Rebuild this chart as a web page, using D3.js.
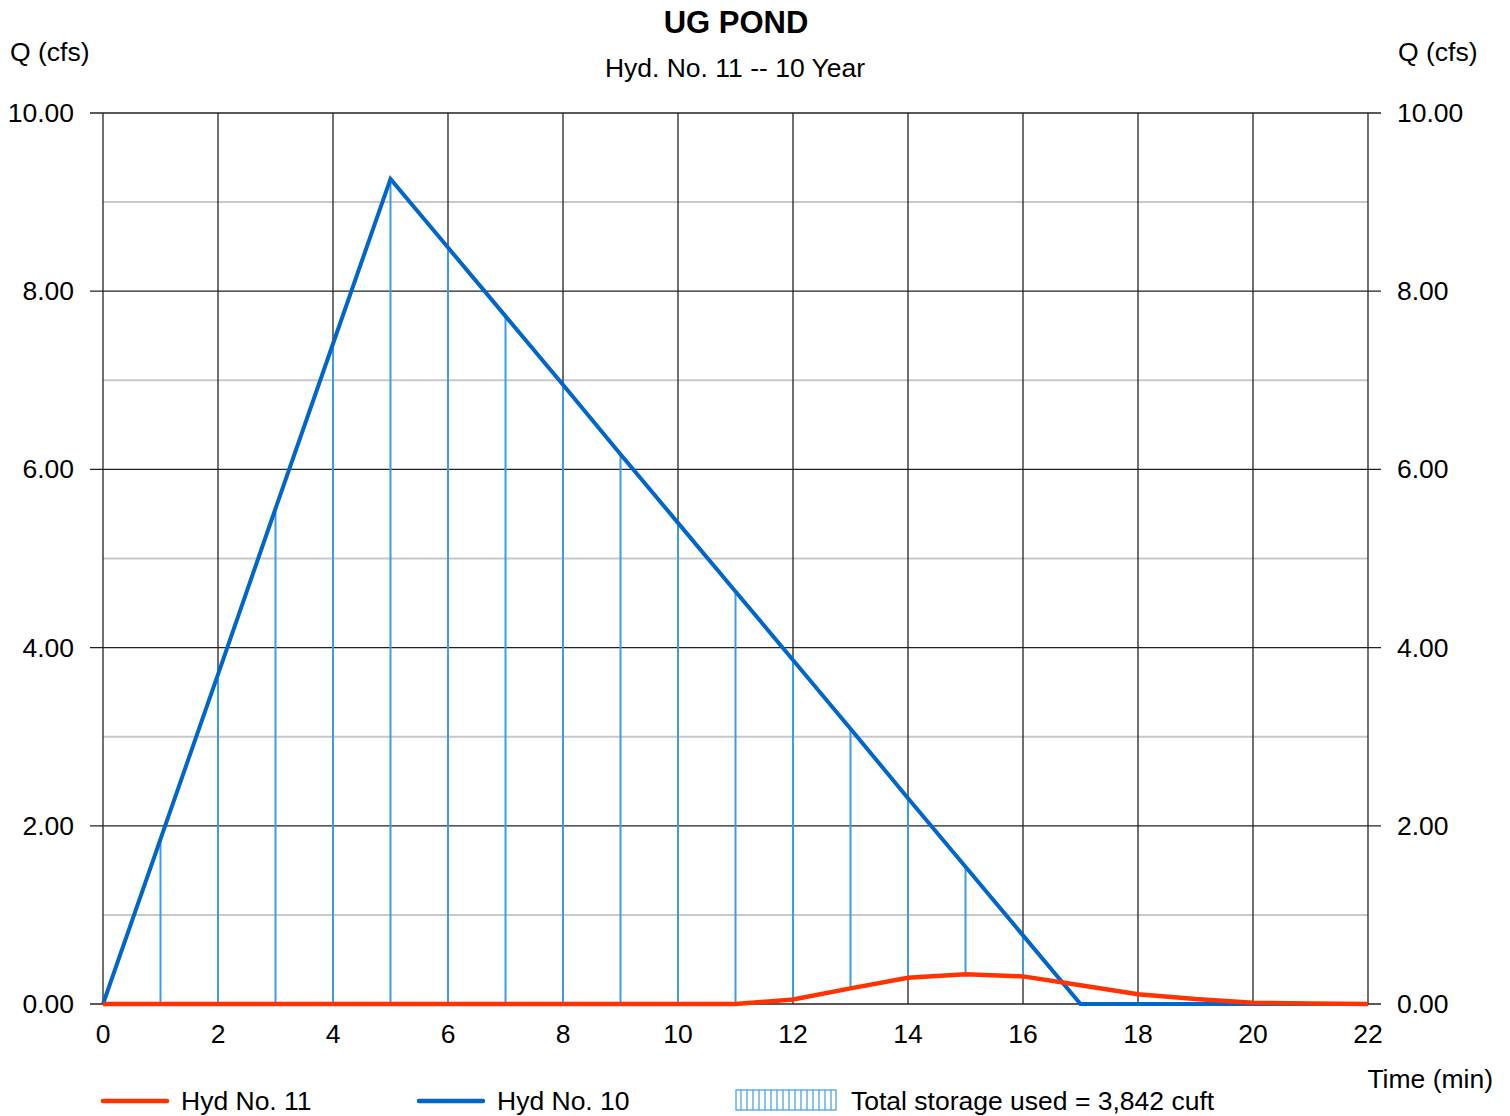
<!DOCTYPE html>
<html><head><meta charset="utf-8">
<script src="https://cdn.jsdelivr.net/npm/d3@7"></script>
<style>body{margin:0;background:#fff}svg{display:block;font-family:"Liberation Sans",Arial,sans-serif}</style>
</head><body><svg id="c" width="1510" height="1116"></svg>
<script>
const times = [0,1,2,3,4,5,6,7,8,9,10,11,12,13,14,15,16,17,18,19,20,21,22];
const inflow = [0,1.85,3.70,5.56,7.41,9.26,8.49,7.72,6.95,6.17,5.40,4.63,3.86,3.09,2.31,1.54,0.77,0,0,0,0,0,0];
const outflow = [0,0,0,0,0,0,0,0,0,0,0,0,0.05,0.175,0.295,0.335,0.31,0.21,0.11,0.055,0.015,0.005,0];
const xTicks = [0,2,4,6,8,10,12,14,16,18,20,22];
const yMajor = [0,2,4,6,8,10];
const yMinor = [1,3,5,7,9];
const title = "UG POND", subtitle = "Hyd. No. 11 -- 10 Year";
const legend = ["Hyd No. 11","Hyd No. 10","Total storage used = 3,842 cuft"];

const FS = 26.5;
const svg = d3.select("#c");
const x = d3.scaleLinear().domain([0,22]).range([103,1368]);
const y = d3.scaleLinear().domain([0,10]).range([1004,113]);

const defs = svg.append("defs");
const pat = defs.append("pattern").attr("id","hatch").attr("patternUnits","userSpaceOnUse").attr("width",6).attr("height",10);
pat.append("rect").attr("width",6).attr("height",10).attr("fill","#fff");
pat.append("line").attr("x1",3).attr("x2",3).attr("y1",0).attr("y2",10).attr("stroke","#3d9be9").attr("stroke-width",1.2);

svg.selectAll(".ymin").data(yMinor).join("line")
  .attr("x1",x(0)).attr("x2",x(22)).attr("y1",d=>y(d)).attr("y2",d=>y(d))
  .attr("stroke","#c8c8c8").attr("stroke-width",2);
svg.selectAll(".ymaj").data(yMajor).join("line")
  .attr("x1",x(0)-13).attr("x2",x(22)+13).attr("y1",d=>y(d)).attr("y2",d=>y(d))
  .attr("stroke","#222").attr("stroke-width",1.3);
svg.selectAll(".xg").data(xTicks).join("line")
  .attr("x1",d=>x(d)).attr("x2",d=>x(d)).attr("y1",y(10)).attr("y2",y(0))
  .attr("stroke","#222").attr("stroke-width",1.3);

const idx = d3.range(times.length).filter(i=>inflow[i]>outflow[i]);
svg.selectAll(".hatch").data(idx).join("line")
  .attr("x1",i=>x(times[i])).attr("x2",i=>x(times[i]))
  .attr("y1",i=>y(outflow[i])).attr("y2",i=>y(inflow[i]))
  .attr("stroke","#3d9be9").attr("stroke-width",2);

const line = d3.line().x((d,i)=>x(times[i])).y(d=>y(d));
svg.append("path").datum(inflow).attr("d",line).attr("fill","none").attr("stroke","#0066cc").attr("stroke-width",4);
svg.append("path").datum(outflow).attr("d",line).attr("fill","none").attr("stroke","#ff3300").attr("stroke-width",4.5);

const fmt = d3.format(".2f");
svg.selectAll(".yl").data(yMajor).join("text").attr("x",74).attr("y",d=>y(d)+9)
  .attr("text-anchor","end").attr("font-size",FS).text(d=>fmt(d));
svg.selectAll(".yr").data(yMajor).join("text").attr("x",1397).attr("y",d=>y(d)+9)
  .attr("text-anchor","start").attr("font-size",FS).text(d=>fmt(d));
svg.selectAll(".xl").data(xTicks).join("text").attr("x",d=>x(d)).attr("y",1043)
  .attr("text-anchor","middle").attr("font-size",FS).text(d=>d);

svg.append("text").attr("x",736).attr("y",33).attr("text-anchor","middle").attr("font-size",31).attr("font-weight","bold").text(title);
svg.append("text").attr("x",735).attr("y",77).attr("text-anchor","middle").attr("font-size",FS).text(subtitle);
svg.append("text").attr("x",10).attr("y",61).attr("font-size",FS).text("Q (cfs)");
svg.append("text").attr("x",1398).attr("y",61).attr("text-anchor","start").attr("font-size",FS).text("Q (cfs)");
svg.append("text").attr("x",1493).attr("y",1088).attr("text-anchor","end").attr("font-size",FS).text("Time (min)");

svg.append("line").attr("x1",103).attr("x2",167).attr("y1",1101).attr("y2",1101).attr("stroke","#ff3300").attr("stroke-width",4.5).attr("stroke-linecap","round");
svg.append("text").attr("x",181).attr("y",1110).attr("font-size",FS).text(legend[0]);
svg.append("line").attr("x1",419).attr("x2",483).attr("y1",1101).attr("y2",1101).attr("stroke","#0066cc").attr("stroke-width",4.5).attr("stroke-linecap","round");
svg.append("text").attr("x",497).attr("y",1110).attr("font-size",FS).text(legend[1]);
svg.append("rect").attr("x",736).attr("y",1090).attr("width",100).attr("height",20).attr("fill","url(#hatch)").attr("stroke","#3d9be9").attr("stroke-width",1.2);
svg.append("text").attr("x",851).attr("y",1110).attr("font-size",FS).text(legend[2]);
</script></body></html>
